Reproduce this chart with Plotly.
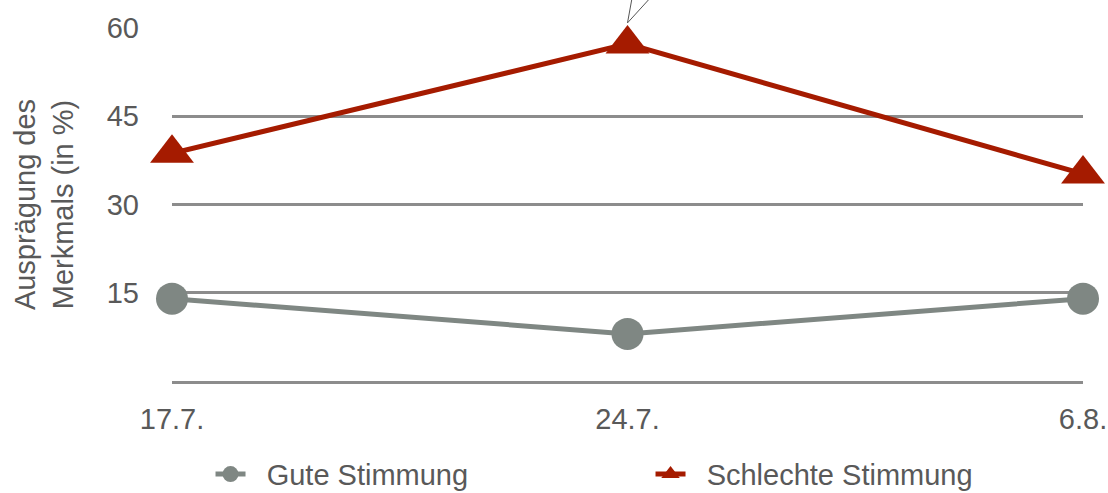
import plotly.graph_objects as go

dates = ["17.7.", "24.7.", "6.8."]
gute = [14, 8, 14]
schlechte = [38.7, 57.3, 35.2]
y_ticks = [15, 30, 45, 60]
y_title = "Ausprägung des<br>Merkmals (in %)"
series_names = ["Gute Stimmung", "Schlechte Stimmung"]

GRAY = "#7f8783"
RED = "#a51b00"
TXT = "#595959"
FONT = "Liberation Sans"
FS = 29
PAD = "\u00a0\u00a0"

fig = go.Figure()
fig.add_trace(go.Scatter(
    x=dates, y=gute, name=PAD + series_names[0], mode="lines+markers",
    line=dict(color=GRAY, width=5),
    marker=dict(symbol="circle", size=32, color=GRAY),
    cliponaxis=False,
))
fig.add_trace(go.Scatter(
    x=dates, y=schlechte, name=PAD + series_names[1], mode="lines+markers",
    line=dict(color=RED, width=5),
    marker=dict(symbol="triangle-up", size=38, color=RED),
    cliponaxis=False,
))

for ax_off in (8, 40):
    fig.add_annotation(
        x=dates[1], y=schlechte[1], yshift=21, text="",
        showarrow=True, arrowhead=0, arrowwidth=1, arrowcolor="#555555",
        ax=ax_off, ay=-46,
    )

fig.update_layout(
    width=1108, height=493,
    margin=dict(l=172, r=25, t=28, b=112, autoexpand=False),
    paper_bgcolor="white", plot_bgcolor="white",
    font=dict(family=FONT, color=TXT, size=FS),
    showlegend=True,
    legend=dict(
        orientation="h", xref="container", x=0.19, xanchor="left",
        yref="container", y=0.038, yanchor="middle",
        entrywidth=395, entrywidthmode="pixels",
        font=dict(size=FS, color=TXT, family=FONT),
        itemwidth=30,
    ),
    xaxis=dict(
        type="category", range=[0, 2], showgrid=False,
        showline=True, linecolor="#8c8c8c", linewidth=2.5,
        ticks="", tickfont=dict(size=FS, color=TXT),
        ticklabelstandoff=10,
    ),
    yaxis=dict(
        range=[0, 60], tickvals=y_ticks, showgrid=True,
        gridcolor="#8c8c8c", gridwidth=2.5, zeroline=False,
        showline=False, ticks="", tickfont=dict(size=FS, color=TXT),
        ticklabelstandoff=32,
        title=dict(text=y_title, font=dict(size=FS, color=TXT), standoff=24),
    ),
)

fig.write_html("out.html")
